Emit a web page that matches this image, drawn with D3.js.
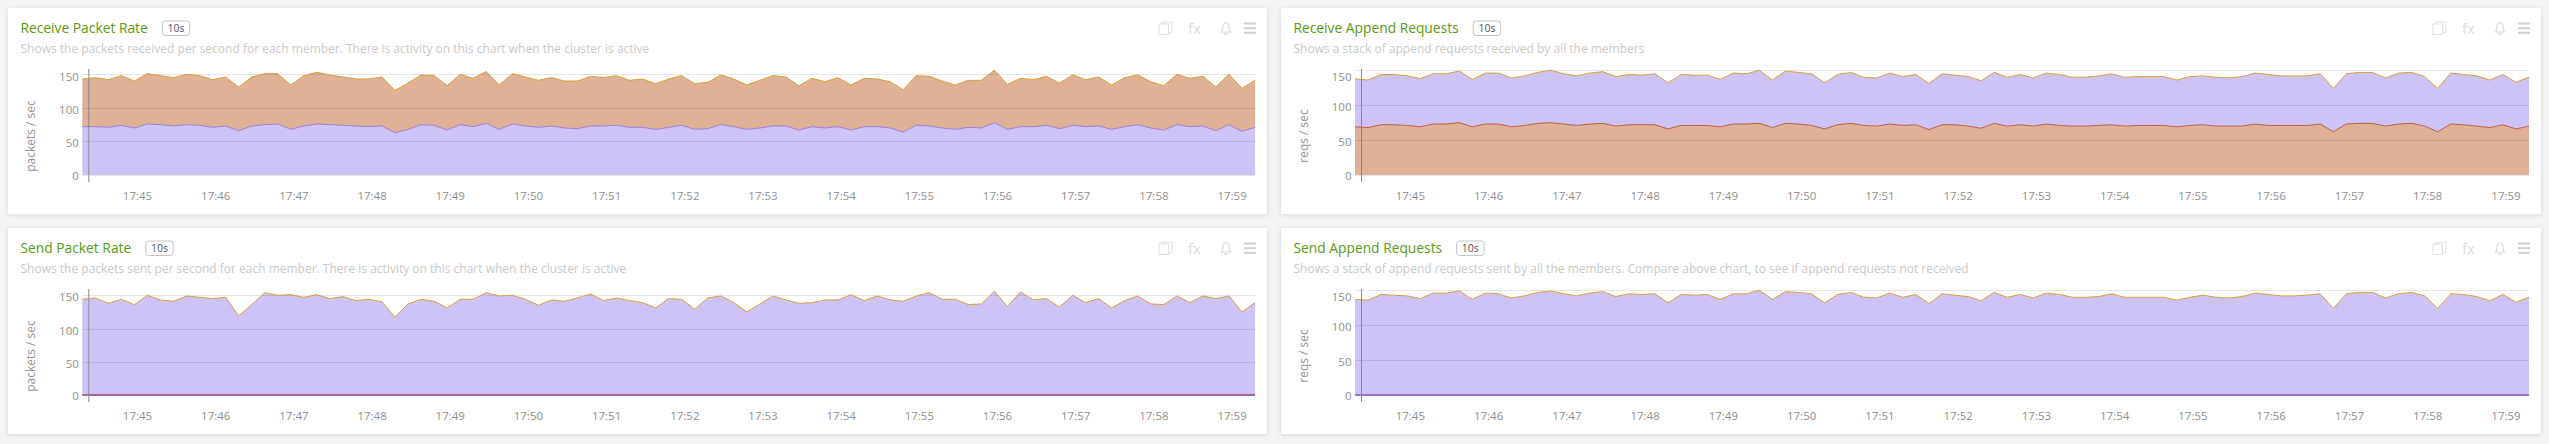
<!DOCTYPE html>
<html><head><meta charset="utf-8">
<style>
html,body{margin:0;padding:0;background:#f5f5f5;overflow:hidden}
svg{display:block}
text{font-family:"Open Sans",sans-serif}
</style>
<script src="https://cdn.jsdelivr.net/npm/d3@7/dist/d3.min.js"></script>
</head><body><svg id="c" width="2549" height="444"></svg>
<script>
const tickLabels=["17:45","17:46","17:47","17:48","17:49","17:50","17:51","17:52","17:53","17:54","17:55","17:56","17:57","17:58","17:59"];
const yTicks=[0,50,100,150];
const startTime="17:44:18";
const stepSeconds=10;

const receivePacketLower=[72,72,71,74,70,76,75,73,75,74,71,73,66,73,75,76,68,73,76,75,74,73,72,73,63,68,75,74,67,75,72,77,68,76,73,71,73,70,69,73,73,74,71,
71,68,71,74,68,69,75,72,68,70,73,73,67,72,70,72,67,72,72,70,64,74,73,70,68,71,70,78,68,72,72,74,69,74,72,73,68,72,75,70,67,75,72,73,66,75,65,71];
const receivePacketTotal=[143,145,142,148,140,151,148,145,150,148,142,146,131,146,151,151,134,148,153,149,146,143,143,146,126,137,149,148,133,150,144,154,134,151,146,141,145,140,140,147,145,148,141,
143,136,143,148,136,138,149,143,134,141,148,146,133,144,139,145,134,144,143,139,127,148,147,140,134,141,141,156,135,144,142,147,137,149,142,146,134,145,149,139,133,150,144,147,131,150,129,141];
const receiveAppendLower=[69,68,72,72,71,69,73,73,75,69,73,73,69,71,74,75,73,71,73,74,70,72,72,72,66,71,71,71,69,73,73,74,68,74,73,71,66,72,74,71,70,73,71,
72,65,72,72,70,67,74,70,72,70,73,71,70,70,71,72,70,71,71,71,69,71,72,70,70,70,73,71,71,71,71,73,62,73,74,74,70,73,74,70,62,73,72,70,68,72,66,70];
const receiveAppendTotal=[138,136,144,144,142,138,145,145,149,137,146,146,139,142,147,150,145,142,146,148,141,144,143,145,132,144,143,143,137,146,145,150,136,149,147,145,132,144,147,140,139,146,141,
144,131,145,143,141,135,147,140,144,139,146,144,140,140,142,145,140,141,141,141,136,141,142,140,139,141,146,144,142,142,142,145,124,145,147,147,139,146,147,141,124,146,144,142,136,144,133,140];
const sendPacketTotal=[144,146,138,144,136,150,143,141,149,147,145,147,119,136,154,150,151,147,151,145,148,142,144,140,117,137,144,141,131,144,144,154,149,150,144,135,143,141,146,152,142,146,142,
139,131,145,144,129,146,149,139,125,137,149,143,138,139,143,143,151,142,149,143,141,149,154,144,144,136,137,156,133,155,143,145,132,150,139,145,131,142,149,137,136,149,139,149,145,149,125,139];
const sendAppendTotal=[137,136,144,143,142,138,146,146,149,137,146,145,139,142,147,149,145,142,146,148,141,145,144,145,132,144,143,144,137,145,145,150,137,148,147,145,132,144,147,140,139,146,140,
144,131,145,143,141,135,147,140,144,139,146,144,140,140,141,145,140,140,140,140,136,140,143,140,139,141,146,144,142,142,143,145,124,145,147,147,139,145,147,142,124,145,144,141,135,144,133,140];
const zeroSeries=[0,0,0,0,0,0,0,0,0,0,0,0,0,0,0,0,0,0,0,0,0,0,0,0,0,0,0,0,0,0,0,0,0,0,0,0,0,0,0,0,0,0,0,0,0,0,0,0,0,0,0,0,0,0,0,0,0,0,0,0,0,0,0,0,0,0,0,0,0,0,0,0,0,0,0,0,0,0,0,0,0,0,0,0,0,0,0,0,0,0,0];

const PURPLE="#cdc3f7", BROWN="#dfb196", GOLD="#da9f38";
const panels=[
 {title:"Receive Packet Rate",desc:"Shows the packets received per second for each member. There is activity on this chart when the cluster is active",unit:"packets / sec",lower:receivePacketLower,total:receivePacketTotal,lowerFill:PURPLE,upperFill:BROWN,lowerLine:"#a07fd6",col:0,row:0,top150:74.3},
 {title:"Receive Append Requests",desc:"Shows a stack of append requests received by all the members",unit:"reqs / sec",lower:receiveAppendLower,total:receiveAppendTotal,lowerFill:BROWN,upperFill:PURPLE,lowerLine:"#bc6048",col:1,row:0,top150:70.3},
 {title:"Send Packet Rate",desc:"Shows the packets sent per second for each member. There is activity on this chart when the cluster is active",unit:"packets / sec",lower:zeroSeries,total:sendPacketTotal,lowerFill:BROWN,upperFill:PURPLE,lowerLine:"#a26a8c",col:0,row:1,top150:295.3},
 {title:"Send Append Requests",desc:"Shows a stack of append requests sent by all the members. Compare above chart, to see if append requests not received",unit:"reqs / sec",lower:zeroSeries,total:sendAppendTotal,lowerFill:PURPLE,upperFill:PURPLE,lowerLine:"#9475c6",col:1,row:1,top150:290.3}
];

const svg=d3.select("#c");
const defs=svg.append("defs");
const f=defs.append("filter").attr("id","sh").attr("x","-2%").attr("y","-5%").attr("width","104%").attr("height","112%");
f.append("feDropShadow").attr("dx",0).attr("dy",1).attr("stdDeviation",2.5).attr("flood-color","#000").attr("flood-opacity",0.13);

const parseClock=d3.utcParse("%H:%M:%S");
const t0=parseClock(startTime);
const times=receivePacketTotal.map((_,i)=>d3.utcSecond.offset(t0,i*stepSeconds));
const tickDates=tickLabels.map(s=>parseClock(s+":00"));

const layout={colLeft:[8,1281],colWidth:[1259,1260],rowTop:[8,228],rowHeight:206,plotInset:[74.3,74],plotRight:[1255,2529],zero:[175,395]};

panels.forEach(p=>{
  const L=layout.colLeft[p.col],W=layout.colWidth[p.col],T=layout.rowTop[p.row],H=layout.rowHeight;
  const g=svg.append("g");
  g.append("rect").attr("x",L).attr("y",T).attr("width",W).attr("height",H).attr("fill","#fff").attr("filter","url(#sh)");

  const px0=L+layout.plotInset[p.col], px1=layout.plotRight[p.col], y0=layout.zero[p.row];
  const x=d3.scaleUtc().domain([times[0],times[times.length-1]]).range([px0,px1]);
  const y=d3.scaleLinear().domain([0,150]).range([y0,p.top150]);

  const band=(a,b)=>d3.area().x((d,i)=>x(times[i])).y0((d,i)=>y(a[i])).y1((d,i)=>y(b[i])).curve(d3.curveLinear)(times);
  const line=a=>d3.line().x((d,i)=>x(times[i])).y((d,i)=>y(a[i]))(times);

  g.append("path").attr("d",band(p.lower,p.total)).attr("fill",p.upperFill);
  g.append("path").attr("d",band(zeroSeries,p.lower)).attr("fill",p.lowerFill);

  // grid
  g.append("g").selectAll("line").data(yTicks).join("line")
    .attr("x1",px0).attr("x2",px1).attr("y1",d=>Math.round(y(d))+.5).attr("y2",d=>Math.round(y(d))+.5)
    .attr("stroke","#000").attr("stroke-opacity",0.1).attr("stroke-width",1);

  const isZero=p.lower===zeroSeries;
  g.append("path").attr("d",line(p.lower)).attr("fill","none").attr("stroke",p.lowerLine).attr("stroke-width",isZero?2:1);
  g.append("path").attr("d",line(p.total)).attr("fill","none").attr("stroke",GOLD).attr("stroke-width",1);

  // y axis line
  g.append("line").attr("x1",px0+6.5).attr("x2",px0+6.5).attr("y1",T+61).attr("y2",T+174).attr("stroke","#8a8a8a").attr("stroke-width",1);

  // y labels through axis
  const minLabel=T+69.3;
  const ya=g.append("g").attr("transform",`translate(${px0},0)`)
    .call(d3.axisLeft(y).tickValues(yTicks).tickSize(0).tickPadding(3.5));
  ya.select(".domain").remove();
  ya.selectAll(".tick").attr("transform",d=>`translate(0,${Math.max(y(d)+(d===0?1:2),minLabel)})`);
  ya.selectAll("text").attr("font-family",'"Open Sans",sans-serif').attr("font-size",11.5).attr("fill","#8f8f8f").attr("dy","0.35em");

  // x labels through axis
  const xa=g.append("g").attr("transform",`translate(0,${T+187.7})`)
    .call(d3.axisBottom(x).tickValues(tickDates).tickFormat(d3.utcFormat("%H:%M")).tickSize(0).tickPadding(0));
  xa.select(".domain").remove();
  xa.selectAll("text").attr("y",0).attr("dy","0.35em").attr("font-family",'"Open Sans",sans-serif').attr("font-size",11.5).attr("fill","#8f8f8f");
  xa.selectAll("text").each(function(){
    const b=this.getBoundingClientRect();
    if(b.right>px1) d3.select(this).attr("x",px1-b.right);
  });

  // unit
  g.append("text").attr("transform",`translate(${L+22.6},${T+128}) rotate(-90)`).attr("text-anchor","middle").attr("dy","0.35em")
    .attr("font-size",12).attr("fill","#959595").text(p.unit);

  // title, badge, description
  const tx=L+12.5;
  const tt=g.append("text").attr("x",tx).attr("y",T+20).attr("dy","0.35em").attr("font-size",13.8).attr("fill","#5a9a12").text(p.title);
  const tw=tt.node().getComputedTextLength();
  const bx=tx+tw+14.5;
  g.append("rect").attr("x",bx).attr("y",T+13).attr("width",27.5).attr("height",14.5).attr("rx",3).attr("fill","#fff").attr("stroke","#c4c4c4");
  g.append("text").attr("x",bx+13.75).attr("y",T+20.3).attr("dy","0.35em").attr("text-anchor","middle").attr("font-size",10.5).attr("fill","#555").text("10s");
  g.append("text").attr("x",tx).attr("y",T+40.7).attr("dy","0.35em").attr("font-size",12).attr("fill","#c9c9c9").text(p.desc);

  // toolbar icons
  const R=L+W, ic=g.append("g").attr("transform",`translate(${R},${T})`);
  ic.append("rect").attr("x",-108).attr("y",16).attr("width",9.5).attr("height",10.5).attr("fill","#fff").attr("stroke","#e0e0e0");
  ic.append("path").attr("d","M-105,16 v-2 h10 v10.5 h-3").attr("fill","none").attr("stroke","#e0e0e0");
  ic.append("text").attr("x",-79).attr("y",20.5).attr("dy","0.35em").attr("text-anchor","start").attr("font-family",'"Liberation Serif",serif').attr("font-size",15).attr("fill","#dcdcdc").text("fx");
  ic.append("path").attr("d","M-45.5,24 c2,-2 1,-4 1.5,-6 c0.5,-2.5 2,-3.5 3,-3.5 c1,0 2.5,1 3,3.5 c0.5,2 -0.5,4 1.5,6 z M-42.5,25 a1.5,1.5 0 0 0 3,0")
    .attr("fill","none").attr("stroke","#dcdcdc").attr("stroke-width",1.2);
  [15.5,20.2,24.8].forEach(v=>ic.append("line").attr("x1",-23).attr("x2",-11).attr("y1",v).attr("y2",v).attr("stroke","#cfcfcf").attr("stroke-width",2));
});
</script></body></html>
